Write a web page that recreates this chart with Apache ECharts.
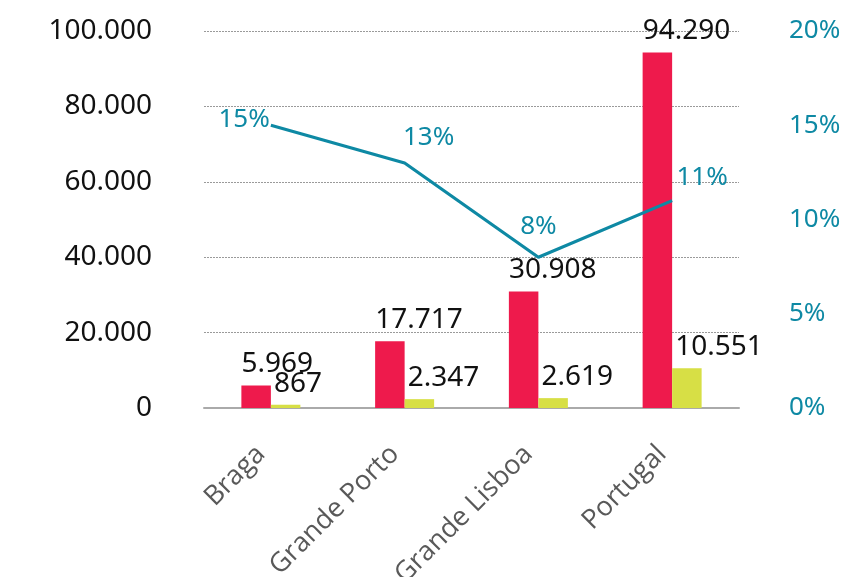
<!DOCTYPE html>
<html>
<head>
<meta charset="utf-8">
<script src="https://cdn.jsdelivr.net/npm/echarts@6/dist/echarts.min.js"></script>
<style>
html,body{margin:0;padding:0;background:#fff;}
#chart{width:845px;height:577px;}
</style>
</head>
<body>
<div id="chart"></div>
<script>
var categories = ['Braga', 'Grande Porto', 'Grande Lisboa', 'Portugal'];
var redValues = [5969, 17717, 30908, 94290];
var yellowValues = [867, 2347, 2619, 10551];
var lineValues = [15, 13, 8, 11];
var leftTicks = [0, 20000, 40000, 60000, 80000, 100000];
var rightTicks = [0, 5, 10, 15, 20];

function fmtThousands(v) {
  return String(v).replace(/\B(?=(\d{3})+(?!\d))/g, '.');
}

var FONT = 'Noto Sans';
var TEAL = '#0e89a4';

var lineLabelStyles = [
  { position: 'left', distance: 1, offset: [0, -6] },
  { position: 'top', distance: 12, offset: [24, 0] },
  { position: 'top', distance: 18, offset: [0, 0] },
  { position: 'top', distance: 10, offset: [30, 0] }
];

var chart = echarts.init(document.getElementById('chart'), null, { renderer: 'canvas' });
var option = {
  backgroundColor: '#ffffff',
  animation: false,
  grid: { left: 204, right: 106, top: 31, bottom: 169, containLabel: false, outerBoundsMode: 'none' },
  xAxis: {
    type: 'category',
    data: categories,
    axisLine: { show: true, lineStyle: { color: '#aaaaaa', width: 2 } },
    axisTick: { show: false },
    axisLabel: {
      rotate: 45, margin: 32, padding: [0, 14, 0, 0], color: '#595959', fontFamily: 'Open Sans', fontSize: 27
    }
  },
  yAxis: [
    {
      type: 'value', min: leftTicks[0], max: leftTicks[leftTicks.length - 1], interval: leftTicks[1] - leftTicks[0],
      axisLine: { show: false }, axisTick: { show: false },
      axisLabel: { margin: 52, color: '#111111', fontFamily: FONT, fontSize: 28, formatter: fmtThousands },
      splitLine: { show: true, lineStyle: { color: '#9a9a9a', type: [2, 1], width: 1 } }
    },
    {
      type: 'value', min: rightTicks[0], max: rightTicks[rightTicks.length - 1], interval: rightTicks[1] - rightTicks[0],
      position: 'right',
      axisLine: { show: false }, axisTick: { show: false },
      axisLabel: { margin: 50, color: TEAL, fontFamily: FONT, fontSize: 26, formatter: '{value}%', verticalAlign: 'middle', padding: [6, 0, 0, 0] },
      splitLine: { show: false }
    }
  ],
  series: [
    {
      type: 'bar', yAxisIndex: 0, data: redValues, barWidth: 29.5, barGap: '0%',
      itemStyle: { color: '#ee1a4c' },
      label: {
        show: true, position: [0, -7], align: 'left', verticalAlign: 'bottom',
        color: '#111111', fontFamily: FONT, fontSize: 28,
        formatter: function (p) { return fmtThousands(p.value); }
      }
    },
    {
      type: 'bar', yAxisIndex: 0, data: yellowValues, barWidth: 29.5, barGap: '0%',
      itemStyle: { color: '#d7df45' },
      label: {
        show: true, position: [3, -7], align: 'left', verticalAlign: 'bottom',
        color: '#111111', fontFamily: FONT, fontSize: 28,
        formatter: function (p) { return fmtThousands(p.value); }
      }
    },
    {
      type: 'line', yAxisIndex: 1, z: 5,
      data: lineValues.map(function (v, i) {
        var s = lineLabelStyles[i];
        return { value: v, label: { position: s.position, distance: s.distance, offset: s.offset } };
      }),
      showSymbol: true, symbol: 'circle', symbolSize: 0.1,
      lineStyle: { color: TEAL, width: 3.2 },
      itemStyle: { color: TEAL },
      label: {
        show: true, color: TEAL, fontFamily: FONT, fontSize: 26,
        formatter: function (p) { return p.value + '%'; }
      }
    }
  ]
};
chart.setOption(option);
</script>
</body>
</html>
